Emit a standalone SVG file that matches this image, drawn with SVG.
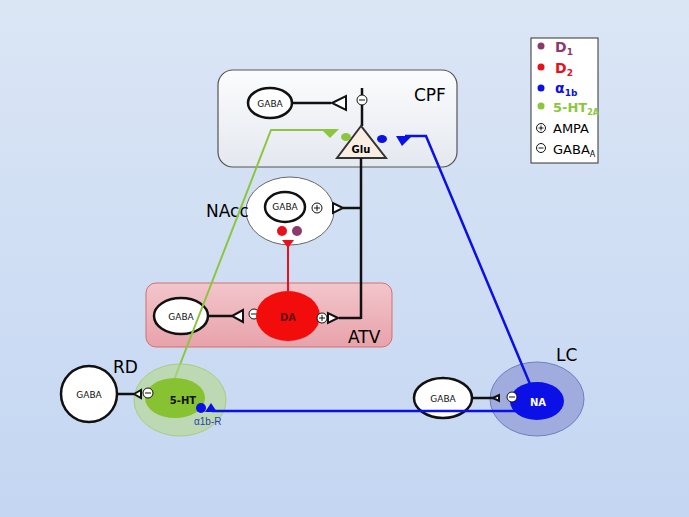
<svg xmlns="http://www.w3.org/2000/svg" width="689" height="517" viewBox="0 0 689 517">
<defs>
<linearGradient id="bg" x1="0" y1="0" x2="0" y2="1"><stop offset="0" stop-color="#dbe6f5"/><stop offset="1" stop-color="#c4d6f2"/></linearGradient>
<linearGradient id="cpf" x1="0" y1="0" x2="0" y2="1"><stop offset="0" stop-color="#fbfcfd"/><stop offset="1" stop-color="#e4e8ef"/></linearGradient>
<linearGradient id="atv" x1="0" y1="0" x2="0" y2="1"><stop offset="0" stop-color="#f2c6cc"/><stop offset="1" stop-color="#e8a2aa"/></linearGradient>
</defs>
<style>
.t{font-family:"Comic Sans MS","DejaVu Sans",sans-serif}
.g{fill:#fff;stroke:#111;stroke-width:2.5}
.l{stroke:#111;stroke-width:2.5;fill:none}
.o{fill:#fff;stroke:#111;stroke-width:2}
.s{fill:#fff;stroke:#111;stroke-width:1}
.sm{font-size:10px;font-weight:bold;text-anchor:middle;font-family:"DejaVu Sans",sans-serif}
.gt{font-size:9px;text-anchor:middle;font-family:"DejaVu Sans",sans-serif;fill:#111}
</style>
<rect width="689" height="517" fill="url(#bg)"/>
<g id="CPF">
<rect x="218" y="70" width="239" height="97" rx="15" fill="url(#cpf)" stroke="#555" stroke-width="1.2"/>
<text x="414" y="101" class="t" font-size="17">CPF</text>
<ellipse cx="270" cy="103" rx="22" ry="15" class="g"/><text x="270" y="107" class="gt">GABA</text>
<line x1="292" y1="103" x2="331" y2="103" class="l"/>
<polygon points="332,103 346,96 346,110" class="o"/>
<line x1="362" y1="88" x2="362" y2="126" class="l"/>
<circle cx="362" cy="100" r="5" class="s"/><line x1="359" y1="100" x2="365" y2="100" stroke="#111"/>
<polygon points="361,126 337,158 386,158" fill="#faeee2" stroke="#333" stroke-width="2"/>
<text x="361" y="153" class="sm" font-size="9">Glu</text>
</g>
<g id="NAcc">
<ellipse cx="290" cy="211" rx="44" ry="34" fill="#fff" stroke="#666"/>
<ellipse cx="285" cy="207" rx="20" ry="15" class="g"/><text x="285" y="210" class="gt" font-size="8">GABA</text>
<circle cx="317" cy="208" r="5" class="s"/><path d="M314 208h6M317 205v6" stroke="#111"/>
<circle cx="282" cy="231" r="5" fill="#e8101a"/><circle cx="297" cy="231" r="5" fill="#8b3a6b"/>
<text x="206" y="217" class="t" font-size="17">NAcc</text>
</g>
<g id="ATV">
<rect x="146" y="283" width="246" height="64" rx="10" fill="url(#atv)" stroke="#d07070"/>
<text x="348" y="343" class="t" font-size="17">ATV</text>
<ellipse cx="181" cy="316" rx="27" ry="18" class="g"/><text x="181" y="320" class="gt">GABA</text>
<line x1="208" y1="316" x2="232" y2="316" class="l"/>
<polygon points="232,316 243,310 243,322" class="o"/>
<circle cx="254" cy="314" r="5" class="s"/><line x1="251" y1="314" x2="257" y2="314" stroke="#111"/>
<ellipse cx="288" cy="316" rx="32" ry="25" fill="#f20c0c"/>
<text x="288" y="321" class="sm" font-size="12" fill="#661010">DA</text>
<circle cx="322" cy="318" r="5" class="s"/><path d="M319 318h6M322 315v6" stroke="#111"/>
</g>
<g id="connectors">
<polyline points="174,380 271,130 330,130" fill="none" stroke="#8cc63f" stroke-width="2"/>
<polygon points="321,129 339,129 330,138" fill="#8cc63f"/>
<ellipse cx="346" cy="137" rx="5" ry="4" fill="#8cc63f"/>
<ellipse cx="382" cy="139" rx="5" ry="4" fill="#0a10e6"/>
<polygon points="396,136 412,136 402,146" fill="#0a10e6"/>
<line x1="361" y1="158" x2="361" y2="308" class="l"/>
<line x1="343" y1="208" x2="361" y2="208" class="l"/>
<polygon points="343,208 333,203 333,213" class="o"/>
<line x1="339" y1="318" x2="361" y2="318" class="l"/><line x1="361" y1="308" x2="361" y2="319" class="l"/>
<polygon points="338,318 328,313 328,323" class="o"/>
<line x1="288" y1="246" x2="288" y2="291" stroke="#e8101a" stroke-width="2"/>
<polygon points="282,240 294,240 288,248" fill="#e8101a"/>
</g>
<g id="RD">
<ellipse cx="180" cy="400" rx="46" ry="36" fill="#b4d88a" fill-opacity="0.6" stroke="#a8cc80"/>
<ellipse cx="175" cy="398" rx="30" ry="20" fill="#86c232"/>
<text x="183" y="404" class="sm" font-size="13" fill="#111">5-HT</text>
<text x="194" y="425" font-family="Liberation Sans,sans-serif" font-size="10" fill="#2a3fb0">α1b-R</text>
<text x="113" y="373" class="t" font-size="17">RD</text>
<circle cx="89" cy="394" r="28" class="g"/><text x="89" y="398" class="gt">GABA</text>
<line x1="117" y1="394" x2="134" y2="394" class="l"/>
<polygon points="134,394 141,390 141,398" class="o"/>
<circle cx="148" cy="393" r="5" class="s"/><line x1="145" y1="393" x2="151" y2="393" stroke="#111"/>
</g>
<g id="LC">
<ellipse cx="537" cy="399" rx="47" ry="37" fill="#a0acde" stroke="#7080c0"/>
<polyline points="405,136 426,136 530,384" fill="none" stroke="#0a10e6" stroke-width="2.5"/>
<ellipse cx="537" cy="401" rx="27" ry="19" fill="#0a10e6"/>
<text x="538" y="406" class="sm" font-size="13" fill="#fff">NA</text>
<text x="556" y="361" class="t" font-size="17">LC</text>
<ellipse cx="443" cy="398" rx="29" ry="20" class="g"/><text x="443" y="402" class="gt">GABA</text>
<line x1="472" y1="398" x2="494" y2="398" class="l"/>
<polygon points="493,398 499,395 499,401" class="o"/>
<circle cx="512" cy="397" r="5" class="s"/><line x1="509" y1="397" x2="515" y2="397" stroke="#111"/>
</g>
<g id="connectors2">
<line x1="212" y1="411" x2="530" y2="411" stroke="#0a10e6" stroke-width="2.5"/>
<circle cx="201" cy="408" r="5" fill="#0a10e6"/>
<polygon points="211,403 205,412 217,412" fill="#0a10e6"/>
</g>
<g id="legend" class="t">
<rect x="531" y="38" width="67" height="125" fill="#fff" stroke="#333"/>
<circle cx="541" cy="46" r="3.5" fill="#8b3a6b"/><text x="555" y="52" font-size="14" fill="#8b3a6b" font-weight="bold">D<tspan font-size="9" dy="3">1</tspan></text>
<circle cx="541" cy="67" r="3.5" fill="#e8101a"/><text x="555" y="73" font-size="14" fill="#e8101a" font-weight="bold">D<tspan font-size="9" dy="3">2</tspan></text>
<circle cx="541" cy="88" r="3.5" fill="#0a10e6"/><text x="555" y="93" font-size="14" fill="#0a10e6" font-weight="bold">α<tspan font-size="9" dy="3">1b</tspan></text>
<circle cx="541" cy="106" r="3.5" fill="#8cc63f"/><text x="553" y="112" font-size="13" fill="#8cc63f" font-weight="bold">5-HT<tspan font-size="8" dy="3">2A</tspan></text>
<circle cx="541" cy="128" r="4.5" class="s"/><path d="M538.5 128h5M541 125.5v5" stroke="#111"/>
<text x="553" y="133" font-size="13">AMPA</text>
<circle cx="541" cy="148" r="4.5" class="s"/><line x1="538.5" y1="148" x2="543.5" y2="148" stroke="#111"/>
<text x="553" y="154" font-size="13">GABA<tspan font-size="8" dy="3">A</tspan></text>
</g>
</svg>
